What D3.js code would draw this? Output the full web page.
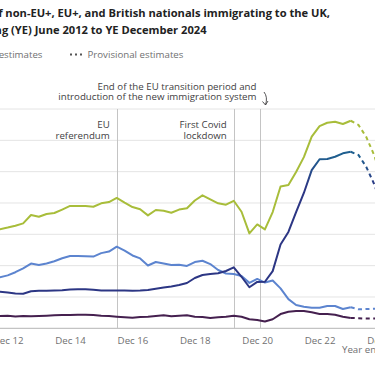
<!DOCTYPE html>
<html><head><meta charset="utf-8">
<script src="https://cdn.jsdelivr.net/npm/d3@7"></script>
<style>
html,body{margin:0;padding:0;background:#fff;overflow:hidden}
svg{display:block;font-family:"Open Sans",sans-serif}
</style></head>
<body><svg id="c" width="375" height="366"></svg>
<script>
// Quarter-end dates: YE June 2012 ... YE December 2024
const quarters = ["2012-06-30","2012-09-30","2012-12-31","2013-03-31","2013-06-30","2013-09-30","2013-12-31","2014-03-31","2014-06-30","2014-09-30","2014-12-31","2015-03-31","2015-06-30","2015-09-30","2015-12-31","2016-03-31","2016-06-30","2016-09-30","2016-12-31","2017-03-31","2017-06-30","2017-09-30","2017-12-31","2018-03-31","2018-06-30","2018-09-30","2018-12-31","2019-03-31","2019-06-30","2019-09-30","2019-12-31","2020-03-31","2020-06-30","2020-09-30","2020-12-31","2021-03-31","2021-06-30","2021-09-30","2021-12-31","2022-03-31","2022-06-30","2022-09-30","2022-12-31","2023-03-31","2023-06-30","2023-09-30","2023-12-31","2024-03-31","2024-06-30","2024-09-30","2024-12-31"];
// thousands
const total   = [624,632,643,655,670,723,712,730,736,758,781,781,781,776,798,806,832,802,774,760,721,755,751,738,758,766,816,849,823,798,789,814,744,606,663,631,742,905,915,998,1093,1224,1291,1312,1319,1304,1325,1298,1221,1106,950];
const nonEU   = [233,234,228,222,221,236,239,240,241,243,248,249,249,246,242,241,241,241,240,241,244,253,260,267,276,289,321,340,347,351,366,389,329,262,296,297,365,535,615,742,864,1010,1079,1081,1095,1117,1127,1106,1030,921,775];
const eu      = [318,326,338,358,383,413,404,414,428,447,461,461,460,458,480,490,521,496,465,446,401,423,414,404,405,398,423,431,410,372,350,347,334,290,315,292,305,255,186,149,138,131,131,142,142,123,134,121,123,125,125];
const british = [78,78,80,76,78,77,78,80,83,85,85,87,87,85,80,78,74,70,67,72,74,78,83,77,80,83,74,72,66,70,74,80,74,58,53,43,58,91,106,110,110,102,91,91,87,74,66,64,62,62,62];
const provisionalFrom = "2023-12-31";
const yTicks = [0,200,400,600,800,1000,1200,1400];
const xTickDates = ["2012-12-31","2014-12-31","2016-12-31","2018-12-31","2020-12-31","2022-12-31","2024-12-31"];
const xTickLabels = ["Dec 12","Dec 14","Dec 16","Dec 18","Dec 20","Dec 22","Dec 24"];
const events = [
  {date:"2016-06-30", lines:["EU","referendum"]},
  {date:"2020-03-31", lines:["First Covid","lockdown"]},
  {date:"2021-02-01", lines:[]}
];
const titleLines = ["Estimated number of non-EU+, EU+, and British nationals immigrating to the UK,","year ending (YE) June 2012 to YE December 2024"];

const svg = d3.select("#c");
const parse = d3.utcParse("%Y-%m-%d");
const dates = quarters.map(parse);
const x = d3.scaleUtc().domain([parse("2012-12-31"), parse("2024-12-31")]).range([7.7, 382]);
const y = d3.scaleLinear().domain([0,1400]).range([328.3, 109]);
const FS = 9.7;

// gridlines
svg.append("g").selectAll("line").data(yTicks.slice(1)).join("line")
  .attr("x1",-10).attr("x2",385).attr("y1",d=>y(d)).attr("y2",d=>y(d))
  .attr("stroke","#e4e4e4").attr("stroke-width",1);
// axis
const xAxis = d3.axisBottom(x).tickValues(xTickDates.map(parse)).tickFormat((d,i)=>xTickLabels[i]).tickSize(0).tickPadding(9);
const gx = svg.append("g").attr("transform",`translate(0,${y(0)})`).call(xAxis);
gx.select(".domain").attr("stroke","#b4b4b4").attr("d","M-10,0H385");
gx.selectAll("text").attr("fill","#707071").attr("font-size",FS).attr("font-family","Open Sans");

// event lines
svg.append("g").selectAll("line").data(events).join("line")
  .attr("x1",d=>Math.round(x(parse(d.date)))+0.5).attr("x2",d=>Math.round(x(parse(d.date)))+0.5)
  .attr("y1",y(1400)).attr("y2",y(0)).attr("stroke","#c4c4c4").attr("stroke-width",1);
events.forEach(ev=>{
  const t = svg.append("text").attr("text-anchor","end").attr("font-size",FS).attr("fill","#414042");
  ev.lines.forEach((l,i)=>t.append("tspan").attr("x",x(parse(ev.date))-7).attr("y",127.5+i*11).text(l));
});

// gradient for non-EU+ line
const defs = svg.append("defs");
const grad = defs.append("linearGradient").attr("id","nonEUgrad").attr("gradientUnits","userSpaceOnUse")
  .attr("x1",0).attr("x2",0).attr("y1",y(1100)).attr("y2",y(900));
grad.append("stop").attr("offset",0).attr("stop-color","#1f5f8f");
grad.append("stop").attr("offset",1).attr("stop-color","#2c3684");

const series = [
  {vals:british, color:"#45204f"},
  {vals:eu, color:"#5c84cf"},
  {vals:nonEU, color:"url(#nonEUgrad)"},
  {vals:total, color:"#a8bd3a"}
];
const cut = dates.findIndex(d=>+d===+parse(provisionalFrom));
const line = d3.line().x(d=>x(d[0])).y(d=>y(d[1])).curve(d3.curveLinear);
series.forEach(s=>{
  const pts = dates.map((d,i)=>[d,s.vals[i]]);
  svg.append("path").attr("d",line(pts.slice(0,cut+1))).attr("fill","none")
    .attr("stroke",s.color).attr("stroke-width",2).attr("stroke-linejoin","round");
  svg.append("path").attr("d",line(pts.slice(cut))).attr("fill","none")
    .attr("stroke",s.color).attr("stroke-width",2).attr("stroke-dasharray","4,3.5");
});

// title (font size fitted so the visible part spans like the reference)
const probe = svg.append("text").attr("font-size",12).attr("font-weight",700).text("non-EU+, EU+, and British nationals immigrating to the UK,");
const tfs = Math.max(9, Math.min(13, 12 * 325 / probe.node().getComputedTextLength()));
probe.remove();
svg.append("text").attr("x",330).attr("y",17).attr("text-anchor","end").attr("font-size",tfs).attr("font-weight",700).attr("fill","#222").text(titleLines[0]);
svg.append("text").attr("x",206.5).attr("y",33.5).attr("text-anchor","end").attr("font-size",tfs).attr("font-weight",700).attr("fill","#222").text(titleLines[1]);

// legend
svg.append("text").attr("x",42.5).attr("y",58).attr("text-anchor","end").attr("font-size",FS).attr("fill","#707071").text("Final estimates");
svg.append("line").attr("x1",70).attr("x2",84).attr("y1",54.5).attr("y2",54.5).attr("stroke","#555").attr("stroke-width",2).attr("stroke-dasharray","2,3");
svg.append("text").attr("x",87.5).attr("y",58).attr("font-size",FS).attr("fill","#707071").text("Provisional estimates");

// annotation (transition)
const ann = svg.append("text").attr("text-anchor","end").attr("font-size",FS).attr("fill","#414042");
ann.append("tspan").attr("x",256.5).attr("y",89.7).text("End of the EU transition period and");
ann.append("tspan").attr("x",256.5).attr("y",100.4).text("introduction of the new immigration system");
svg.append("path").attr("d","M264,92 Q268,97 265.5,105").attr("fill","none").attr("stroke","#414042").attr("stroke-width",0.9);
svg.append("path").attr("d","M262.5,101.5 L265.5,105 L268,101").attr("fill","none").attr("stroke","#414042").attr("stroke-width",0.9);

// x axis title
svg.append("text").attr("x",342).attr("y",353).attr("font-size",FS).attr("fill","#707071").text("Year ending");
</script></body></html>
